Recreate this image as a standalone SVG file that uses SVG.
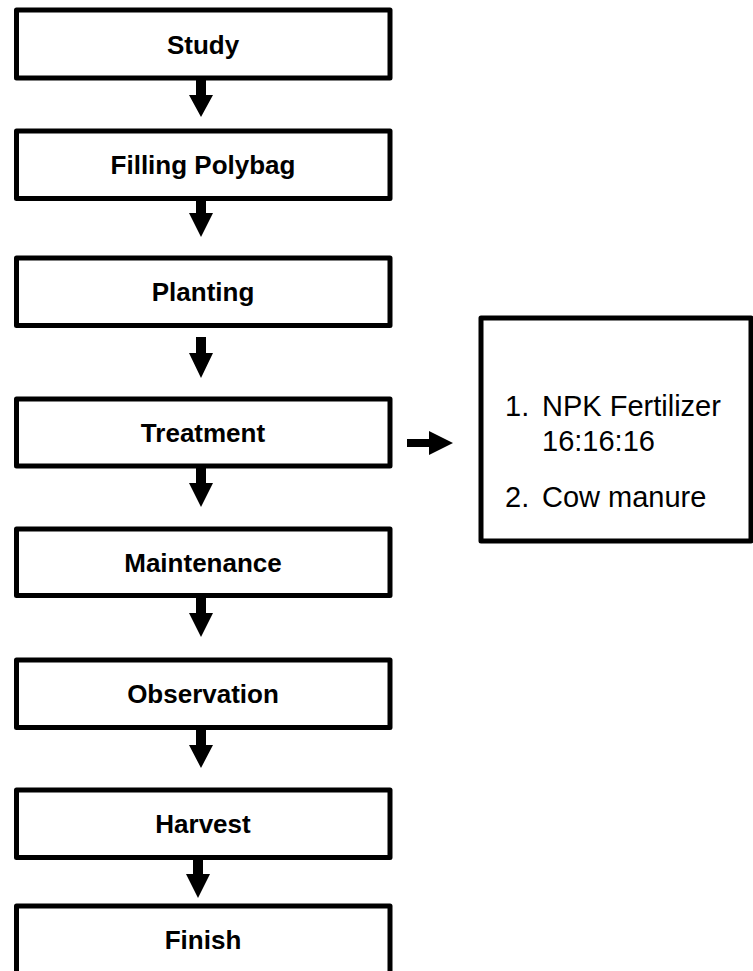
<svg xmlns="http://www.w3.org/2000/svg" width="753" height="971" viewBox="0 0 753 971">
  <style>
    .box { fill: #ffffff; stroke: #000000; stroke-width: 5; stroke-linejoin: round; }
    .label { font-family: "Liberation Sans", Arial, sans-serif; font-weight: bold; font-size: 26px; text-anchor: middle; fill: #000000; }
    .item { font-family: "Liberation Sans", Arial, sans-serif; font-size: 29px; fill: #000000; }
    .arrow { fill: #000000; stroke: none; }
  </style>
  <rect x="0" y="0" width="753" height="971" fill="#ffffff"/>

  <g id="study">
    <rect class="box" x="16.5" y="10" width="373.5" height="68"/>
    <text class="label" x="203" y="53.5">Study</text>
  </g>
  <g id="filling-polybag">
    <rect class="box" x="16.5" y="131" width="373.5" height="67.5"/>
    <text class="label" x="203" y="174.3">Filling Polybag</text>
  </g>
  <g id="planting">
    <rect class="box" x="16.5" y="258" width="373.5" height="67.5"/>
    <text class="label" x="203" y="301.3">Planting</text>
  </g>
  <g id="treatment">
    <rect class="box" x="16.5" y="399" width="373.5" height="67"/>
    <text class="label" x="203" y="442">Treatment</text>
  </g>
  <g id="maintenance">
    <rect class="box" x="16.5" y="529" width="373.5" height="66.5"/>
    <text class="label" x="203" y="571.8">Maintenance</text>
  </g>
  <g id="observation">
    <rect class="box" x="16.5" y="660" width="373.5" height="67.5"/>
    <text class="label" x="203" y="703.3">Observation</text>
  </g>
  <g id="harvest">
    <rect class="box" x="16.5" y="790" width="373.5" height="67.5"/>
    <text class="label" x="203" y="833.3">Harvest</text>
  </g>
  <g id="finish">
    <rect class="box" x="16.5" y="906" width="373.5" height="67.5"/>
    <text class="label" x="203" y="949.3">Finish</text>
  </g>

  <g id="treatment-detail">
    <rect class="box" x="481" y="318" width="270" height="223"/>
    <text class="item" x="505" y="416">1.</text>
    <text class="item" x="542" y="416">NPK Fertilizer</text>
    <text class="item" x="542" y="451">16:16:16</text>
    <text class="item" x="505" y="507">2.</text>
    <text class="item" x="542" y="507">Cow manure</text>
  </g>

  <g id="connectors">
    <path class="arrow" d="M196,80 H206 V95 H213 L201,117 L189,95 H196 Z"/>
    <path class="arrow" d="M196,200 H206 V213 H213 L201,237 L189,213 H196 Z"/>
    <path class="arrow" d="M196,337 H206 V353 H213 L201,378 L189,353 H196 Z"/>
    <path class="arrow" d="M196,468 H206 V483 H213 L201,507 L189,483 H196 Z"/>
    <path class="arrow" d="M196,598 H206 V613 H213 L201,637 L189,613 H196 Z"/>
    <path class="arrow" d="M196,730 H206 V745 H213 L201,768 L189,745 H196 Z"/>
    <path class="arrow" d="M193,860 H203 V874 H210 L198,898 L186,874 H193 Z"/>
    <path class="arrow" d="M407,439 H429 V431 L453,443 L429,455 V447 H407 Z"/>
  </g>
</svg>
